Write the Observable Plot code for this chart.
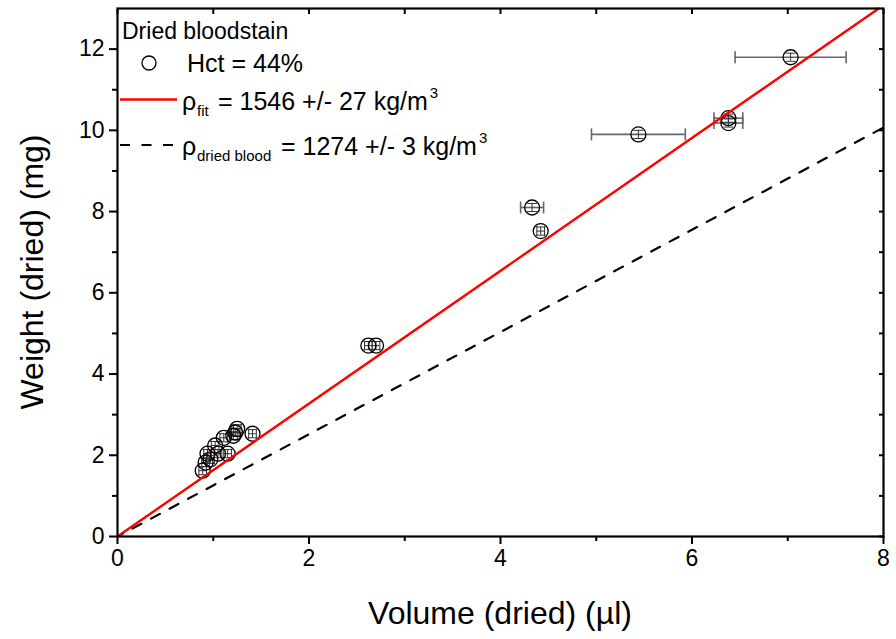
<!DOCTYPE html>
<html>
<head>
<meta charset="utf-8">
<script src="https://cdn.jsdelivr.net/npm/d3@7"></script>
<script src="https://cdn.jsdelivr.net/npm/@observablehq/plot@0.6"></script>
<style>
  html, body { margin: 0; padding: 0; background: #fff; }
  #chart { width: 896px; height: 639px; }
  svg { font-family: "Liberation Sans", Arial, sans-serif; }
</style>
</head>
<body>
<div id="chart"></div>
<script>
// ---- data ----
const volume = [0.89, 0.92, 0.94, 0.97, 1.02, 1.05, 1.11, 1.15, 1.21, 1.23, 1.25, 1.41, 2.62, 2.70, 4.33, 4.42, 5.44, 6.38, 6.38, 7.03];
const weight = [1.62, 1.82, 2.04, 1.90, 2.24, 2.04, 2.43, 2.04, 2.48, 2.56, 2.65, 2.53, 4.70, 4.70, 8.10, 7.52, 9.90, 10.18, 10.30, 11.80];
const volumeErr = [0.04, 0.04, 0.04, 0.04, 0.04, 0.04, 0.04, 0.04, 0.04, 0.04, 0.04, 0.04, 0.04, 0.04, 0.12, 0.04, 0.49, 0.15, 0.15, 0.58];
const weightErr = [0.1, 0.1, 0.1, 0.1, 0.1, 0.1, 0.1, 0.1, 0.1, 0.1, 0.1, 0.1, 0.1, 0.1, 0.1, 0.1, 0.1, 0.1, 0.1, 0.1];

const fitX = [0, 7.95];
const fitY = [0, 13.0];
const driedX = [0, 8];
const driedY = [0, 10.07];

const xMajorTicks = [0, 2, 4, 6, 8];
const xMinorTicks = [1, 3, 5, 7];
const yMajorTicks = [0, 2, 4, 6, 8, 10, 12];
const yMinorTicks = [1, 3, 5, 7, 9, 11];

const xTitle = "Volume (dried) (\u00b5l)";
const yTitle = "Weight (dried) (mg)";
const legendTitle = "Dried bloodstain";
const legendHct = "Hct = 44%";
const legendFit = ["\u03c1", "fit", "= 1546 +/- 27 kg/m", "3"];
const legendDried = ["\u03c1", "dried blood", "= 1274 +/- 3 kg/m", "3"];

// ---- build tables ----
const points = volume.map((v, i) => ({
  x: v, y: weight[i],
  x1: v - volumeErr[i], x2: v + volumeErr[i],
  y1: weight[i] - weightErr[i], y2: weight[i] + weightErr[i],
  big: volumeErr[i] > 0.1
}));
const fitLine = fitX.map((x, i) => ({x, y: fitY[i]}));
const driedLine = driedX.map((x, i) => ({x, y: driedY[i]}));

const vCap = {draw(ctx, size) { const h = Math.sqrt(size / Math.PI); ctx.moveTo(0, -h); ctx.lineTo(0, h); }};
const hCap = {draw(ctx, size) { const h = Math.sqrt(size / Math.PI); ctx.moveTo(-h, 0); ctx.lineTo(h, 0); }};

const plot = Plot.plot({
  width: 896,
  height: 639,
  marginLeft: 117,
  marginRight: 13,
  marginTop: 8,
  marginBottom: 103,
  style: {fontFamily: "'Liberation Sans', Arial, sans-serif", background: "#fff"},
  x: {domain: [0, 8]},
  y: {domain: [0, 13]},
  marks: [
    // error bars
    Plot.ruleY(points.filter(d => d.big), {y: "y", x1: "x1", x2: "x2", stroke: "#666", strokeWidth: 1.6}),
    Plot.dot(points.filter(d => d.big), {x: "x1", y: "y", symbol: vCap, r: 6, stroke: "#666", strokeWidth: 1.6}),
    Plot.dot(points.filter(d => d.big), {x: "x2", y: "y", symbol: vCap, r: 6, stroke: "#666", strokeWidth: 1.6}),
    Plot.ruleY(points.filter(d => !d.big), {y: "y", x1: "x1", x2: "x2", stroke: "#333", strokeWidth: 1}),
    Plot.dot(points.filter(d => !d.big), {x: "x1", y: "y", symbol: vCap, r: 5, stroke: "#333", strokeWidth: 1}),
    Plot.dot(points.filter(d => !d.big), {x: "x2", y: "y", symbol: vCap, r: 5, stroke: "#333", strokeWidth: 1}),
    Plot.ruleX(points, {x: "x", y1: "y1", y2: "y2", stroke: "#333", strokeWidth: 1}),
    Plot.dot(points, {x: "x", y: "y1", symbol: hCap, r: 5, stroke: "#333", strokeWidth: 1}),
    Plot.dot(points, {x: "x", y: "y2", symbol: hCap, r: 5, stroke: "#333", strokeWidth: 1}),
    // markers
    Plot.dot(points, {x: "x", y: "y", r: 7.5, stroke: "#000", strokeWidth: 1.3, fill: "none"}),
    // lines
    Plot.line(driedLine, {x: "x", y: "y", stroke: "#000", strokeWidth: 2.2, strokeDasharray: "10,11", strokeDashoffset: 4}),
    Plot.line(fitLine, {x: "x", y: "y", stroke: "#ff0000", strokeWidth: 2.4}),
    // axes
    Plot.axisX({ticks: xMajorTicks, tickSize: 8, tickPadding: 5, fontSize: 23, label: null, tickFormat: d => d, strokeWidth: 2}),
    Plot.axisX({ticks: xMinorTicks, tickSize: 5, text: null, label: null, strokeWidth: 2}),
    Plot.axisX({anchor: "top", ticks: xMajorTicks.concat(xMinorTicks), tickSize: -5, text: null, label: null, strokeWidth: 2}),
    Plot.axisY({ticks: yMajorTicks, tickSize: 8, tickPadding: 5, fontSize: 23, label: null, tickFormat: d => d, strokeWidth: 2}),
    Plot.axisY({ticks: yMinorTicks, tickSize: 5, text: null, label: null, strokeWidth: 2}),
    Plot.axisY({anchor: "right", ticks: yMajorTicks.concat(yMinorTicks), tickSize: -5, text: null, label: null, strokeWidth: 2}),
    Plot.frame({stroke: "#000", strokeWidth: 2.2})
  ]
});

document.getElementById("chart").appendChild(plot);

// ---- titles and legend ----
const svg = d3.select(plot);
const ff = "'Liberation Sans', Arial, sans-serif";

svg.append("text").attr("x", 500).attr("y", 624).attr("text-anchor", "middle")
  .attr("font-size", 32).attr("font-family", ff).attr("fill", "#000").text(xTitle);
svg.append("text").attr("transform", "translate(43,272) rotate(-90)").attr("text-anchor", "middle")
  .attr("font-size", 32).attr("font-family", ff).attr("fill", "#000").text(yTitle);

const lg = svg.append("g").attr("font-family", ff).attr("fill", "#000").attr("text-anchor", "start");
lg.append("text").attr("x", 122).attr("y", 39).attr("font-size", 23).text(legendTitle);
lg.append("circle").attr("cx", 149).attr("cy", 63).attr("r", 7).attr("fill", "none").attr("stroke", "#000").attr("stroke-width", 1.3);
lg.append("text").attr("x", 187).attr("y", 72).attr("font-size", 25).text(legendHct);

function legendRow(parts, y, subX, mainX) {
  lg.append("text").attr("x", 182).attr("y", y).attr("font-size", 25).text(parts[0]);
  lg.append("text").attr("x", subX).attr("y", y + 6).attr("font-size", 15).text(parts[1]);
  const t = lg.append("text").attr("x", mainX).attr("y", y).attr("font-size", 25);
  t.append("tspan").text(parts[2]);
  t.append("tspan").attr("font-size", 15).attr("dx", 2).attr("dy", -12).text(parts[3]);
}
lg.append("line").attr("x1", 120).attr("x2", 177).attr("y1", 99.5).attr("y2", 99.5).attr("stroke", "#ff0000").attr("stroke-width", 2.4);
legendRow(legendFit, 110, 197, 218);
lg.append("line").attr("x1", 120).attr("x2", 175).attr("y1", 145).attr("y2", 145).attr("stroke", "#000").attr("stroke-width", 2.2).attr("stroke-dasharray", "10,11.5");
legendRow(legendDried, 155, 197, 281);
</script>
</body>
</html>
